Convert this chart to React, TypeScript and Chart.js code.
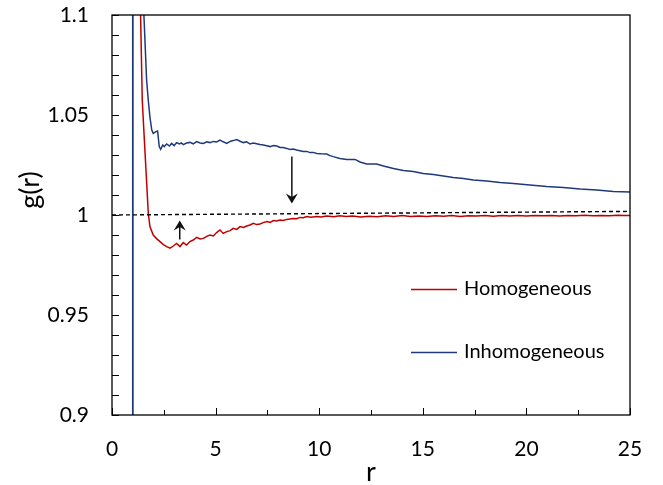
import React, { useEffect, useRef } from 'react';
import { Chart, registerables } from 'chart.js';

Chart.register(...registerables);

// ---- data ----
const homR = [1.0, 1.0, 1.1, 1.2, 1.3, 1.38, 1.46, 1.51, 1.64, 1.75, 1.83, 1.99, 2.15, 2.32, 2.48, 2.64, 2.8, 2.96, 3.12, 3.28, 3.44, 3.6, 3.76, 3.92, 4.09, 4.25, 4.41, 4.57, 4.73, 4.89, 5.05, 5.21, 5.37, 5.54, 5.7, 5.85, 6.02, 6.18, 6.34, 6.5, 6.66, 6.82, 6.98, 7.14, 7.3, 7.47, 7.63, 7.79, 7.95, 8.11, 8.27, 8.43, 8.59, 8.75, 8.91, 9.07, 9.23, 9.4, 9.6, 9.88, 10.1, 10.36, 10.7, 11.0, 11.3, 11.6, 12.0, 12.4, 12.8, 13.2, 13.6, 14.0, 14.4, 14.8, 15.2, 15.6, 16.0, 16.4, 16.8, 17.2, 17.6, 18.0, 18.4, 18.8, 19.2, 19.6, 20.0, 20.4, 20.8, 21.2, 21.6, 22.0, 22.4, 22.8, 23.2, 23.6, 24.0, 24.4, 24.8, 25.0];
const homG = [0.0, 2.8, 1.9, 1.45, 1.2, 1.1, 1.0575, 1.0475, 1.0225, 1.001, 0.9942, 0.99, 0.9882, 0.9867, 0.9852, 0.9842, 0.9834, 0.9845, 0.9858, 0.9842, 0.9862, 0.985, 0.9867, 0.9875, 0.9888, 0.988, 0.9883, 0.9893, 0.99, 0.9895, 0.9912, 0.9925, 0.9908, 0.9917, 0.9922, 0.9933, 0.9928, 0.9942, 0.9938, 0.9945, 0.995, 0.9958, 0.9952, 0.9955, 0.9962, 0.9967, 0.9963, 0.9972, 0.997, 0.9975, 0.9973, 0.9978, 0.998, 0.9983, 0.9981, 0.9988, 0.9986, 0.9992, 0.9989, 0.9992, 0.999, 0.9995, 0.9991, 0.9996, 0.9992, 0.9995, 0.999, 0.9994, 0.9991, 0.9996, 0.9993, 0.9997, 0.9993, 0.9995, 0.9992, 0.9996, 0.9994, 0.9997, 0.9993, 0.9996, 0.9995, 0.9998, 0.9994, 0.9997, 0.9995, 0.9998, 0.9995, 0.9998, 0.9996, 0.9998, 0.9995, 0.9998, 0.9996, 0.9999, 0.9996, 0.9998, 0.9996, 0.9999, 0.9997, 0.9998];

const inhR = [1.0, 1.0, 1.2, 1.4, 1.54, 1.67, 1.75, 1.83, 1.92, 1.99, 2.05, 2.12, 2.2, 2.28, 2.35, 2.45, 2.52, 2.64, 2.77, 2.88, 3.0, 3.12, 3.25, 3.35, 3.44, 3.6, 3.76, 3.92, 4.09, 4.25, 4.41, 4.57, 4.73, 4.89, 5.05, 5.21, 5.37, 5.54, 5.7, 5.85, 6.02, 6.18, 6.34, 6.5, 6.66, 6.82, 6.98, 7.14, 7.3, 7.47, 7.63, 7.79, 7.95, 8.11, 8.27, 8.43, 8.59, 8.75, 8.91, 9.07, 9.23, 9.4, 9.56, 9.72, 9.88, 10.1, 10.36, 10.52, 10.68, 11.0, 11.33, 11.73, 11.97, 12.29, 12.77, 13.1, 13.58, 14.06, 14.54, 15.02, 15.51, 15.99, 16.47, 16.96, 17.44, 18.08, 18.73, 19.37, 20.17, 20.98, 21.78, 22.59, 23.39, 24.2, 25.0];
const inhG = [0.0, 3.0, 1.6, 1.2, 1.1, 1.0675, 1.0575, 1.049, 1.0425, 1.0408, 1.0412, 1.0417, 1.042, 1.0342, 1.0328, 1.035, 1.0342, 1.0355, 1.0345, 1.0358, 1.0347, 1.0362, 1.0355, 1.036, 1.0352, 1.036, 1.0363, 1.0356, 1.0367, 1.036, 1.0358, 1.0366, 1.0362, 1.0368, 1.0365, 1.0375, 1.0366, 1.0358, 1.0368, 1.0372, 1.0377, 1.0369, 1.0362, 1.0366, 1.0355, 1.036, 1.0356, 1.0352, 1.035, 1.0346, 1.0342, 1.0347, 1.0345, 1.0338, 1.0337, 1.0333, 1.0328, 1.033, 1.0325, 1.0321, 1.0317, 1.0318, 1.0312, 1.0313, 1.0308, 1.0306, 1.0305, 1.0297, 1.0292, 1.0283, 1.0278, 1.0278, 1.0265, 1.0255, 1.0255, 1.0245, 1.0233, 1.0222, 1.0217, 1.0208, 1.0203, 1.0195, 1.0188, 1.0183, 1.0175, 1.017, 1.0163, 1.0158, 1.015, 1.0142, 1.0137, 1.013, 1.0125, 1.0117, 1.0115];

const refR = [0, 25];
const refG = [1.0, 1.0018];

const seriesNames = ['Homogeneous', 'Inhomogeneous'];
const xTickValues = [0, 5, 10, 15, 20, 25];
const xTickLabels = ['0', '5', '10', '15', '20', '25'];
const yTickValues = [0.9, 0.95, 1, 1.05, 1.1];
const yTickLabels = ['0.9', '0.95', '1', '1.05', '1.1'];
const xTitle = 'r';
const yTitle = 'g(r)';

// arrows in data coordinates: [r, from g, to g (tip)]
const arrowDown = [8.68, 1.0292, 1.0058];
const arrowUp = [3.27, 0.9878, 0.9972];

const RED = '#c00000';
const BLUE = '#1f3a7a';
const FONT = 'Lato, "Open Sans", sans-serif';

function toPoints(xs: number[], ys: number[]) {
  return xs.map((x, i) => ({ x, y: ys[i] }));
}

function drawArrow(ctx: CanvasRenderingContext2D, x: number, y0: number, y1: number) {
  const dir = y1 > y0 ? 1 : -1;
  const headLen = 10;
  const halfW = 6;
  const notch = 3.5;
  ctx.strokeStyle = '#111';
  ctx.fillStyle = '#111';
  ctx.lineWidth = 1.5;
  ctx.beginPath();
  ctx.moveTo(x, y0);
  ctx.lineTo(x, y1 - dir * notch);
  ctx.stroke();
  ctx.beginPath();
  ctx.moveTo(x, y1);
  ctx.lineTo(x - halfW, y1 - dir * headLen);
  ctx.lineTo(x, y1 - dir * (headLen - notch));
  ctx.lineTo(x + halfW, y1 - dir * headLen);
  ctx.closePath();
  ctx.fill();
}

const decoPlugin = {
  id: 'deco',
  afterDatasetsDraw(chart: any) {
    const { ctx, chartArea: a, scales } = chart;
    const xs = scales.x;
    const ys = scales.y;
    ctx.save();
    // inward ticks
    ctx.strokeStyle = '#000';
    ctx.lineWidth = 1;
    const nY = Math.round((ys.max - ys.min) / 0.01);
    for (let i = 0; i <= nY; i++) {
      const py = Math.round(ys.getPixelForValue(ys.min + i * 0.01)) + 0.5;
      ctx.beginPath();
      ctx.moveTo(a.left, py);
      ctx.lineTo(a.left + 7, py);
      ctx.stroke();
    }
    const nX = Math.round((xs.max - xs.min) / 2.5);
    for (let i = 0; i <= nX; i++) {
      const px = Math.round(xs.getPixelForValue(xs.min + i * 2.5)) + 0.5;
      const len = i % 2 === 0 ? 7 : 5;
      ctx.beginPath();
      ctx.moveTo(px, a.bottom);
      ctx.lineTo(px, a.bottom - len);
      ctx.stroke();
    }
    // box
    ctx.lineWidth = 1.3;
    ctx.strokeRect(a.left, a.top, a.right - a.left, a.bottom - a.top);

    // arrows
    drawArrow(ctx, xs.getPixelForValue(arrowDown[0]), ys.getPixelForValue(arrowDown[1]), ys.getPixelForValue(arrowDown[2]));
    drawArrow(ctx, xs.getPixelForValue(arrowUp[0]), ys.getPixelForValue(arrowUp[1]), ys.getPixelForValue(arrowUp[2]));

    // legend
    const legColors = [RED, BLUE];
    const legY = [289, 352];
    ctx.font = `20px ${FONT}`;
    ctx.textAlign = 'left';
    ctx.textBaseline = 'middle';
    seriesNames.forEach((name, i) => {
      ctx.strokeStyle = legColors[i];
      ctx.lineWidth = 1.5;
      ctx.beginPath();
      ctx.moveTo(411, legY[i] + 0.5);
      ctx.lineTo(457, legY[i] + 0.5);
      ctx.stroke();
      ctx.fillStyle = '#000';
      ctx.fillText(name, 464, legY[i]);
    });

    // axis titles
    ctx.fillStyle = '#000';
    ctx.font = `27px ${FONT}`;
    ctx.textAlign = 'center';
    ctx.textBaseline = 'alphabetic';
    ctx.fillText(xTitle, (a.left + a.right) / 2, 481);
    ctx.save();
    ctx.translate(39, 190);
    ctx.rotate(-Math.PI / 2);
    ctx.textBaseline = 'alphabetic';
    ctx.fillText(yTitle, 0, 0);
    ctx.restore();
    ctx.restore();
  },
};

function zeroPad(s: any) {
  s.paddingTop = 0;
  s.paddingBottom = 0;
  s.paddingLeft = 0;
  s.paddingRight = 0;
}

export default function App() {
  const ref = useRef<HTMLCanvasElement | null>(null);
  useEffect(() => {
    document.body.style.margin = '0';
    const canvas = ref.current;
    if (!canvas) return;
    const chart = new Chart(canvas, {
      type: 'scatter',
      data: {
        datasets: [
          {
            label: 'ref',
            data: toPoints(refR, refG),
            showLine: true,
            borderColor: '#000',
            borderWidth: 1.4,
            borderDash: [4, 3],
            pointRadius: 0,
            fill: false,
          },
          {
            label: seriesNames[1],
            data: toPoints(inhR, inhG),
            showLine: true,
            borderColor: BLUE,
            borderWidth: 1.5,
            pointRadius: 0,
            fill: false,
          },
          {
            label: seriesNames[0],
            data: toPoints(homR, homG),
            showLine: true,
            borderColor: RED,
            borderWidth: 1.5,
            pointRadius: 0,
            fill: false,
          },
        ],
      },
      options: {
        animation: false,
        responsive: false,
        devicePixelRatio: 1,
        layout: { padding: { left: 0, right: 33, top: 15, bottom: 0 } },
        plugins: { legend: { display: false }, tooltip: { enabled: false } },
        scales: {
          x: {
            type: 'linear',
            min: 0,
            max: 25,
            afterBuildTicks: (s: any) => {
              s.ticks = xTickValues.map((v) => ({ value: v }));
            },
            afterFit: (s: any) => {
              s.height = 70;
              zeroPad(s);
            },
            grid: { display: false, drawTicks: false },
            border: { display: false },
            ticks: {
              padding: 22,
              color: '#000',
              maxRotation: 0,
              autoSkip: false,
              font: { family: FONT, size: 21 },
              callback: (v: any) => {
                const i = xTickValues.findIndex((t) => Math.abs(t - v) < 1e-9);
                return i >= 0 ? xTickLabels[i] : '';
              },
            },
          },
          y: {
            type: 'linear',
            min: 0.9,
            max: 1.1,
            afterBuildTicks: (s: any) => {
              s.ticks = yTickValues.map((v) => ({ value: v }));
            },
            afterFit: (s: any) => {
              s.width = 112;
              zeroPad(s);
            },
            grid: { display: false, drawTicks: false },
            border: { display: false },
            ticks: {
              padding: 23,
              color: '#000',
              autoSkip: false,
              font: { family: FONT, size: 21 },
              callback: (v: any) => {
                const i = yTickValues.findIndex((t) => Math.abs(t - v) < 1e-9);
                return i >= 0 ? yTickLabels[i] : '';
              },
            },
          },
        },
      },
      plugins: [decoPlugin],
    } as any);
    return () => chart.destroy();
  }, []);
  return (
    <div style={{ width: 663, height: 485, background: '#fff' }}>
      <canvas ref={ref} width={663} height={485} />
    </div>
  );
}
